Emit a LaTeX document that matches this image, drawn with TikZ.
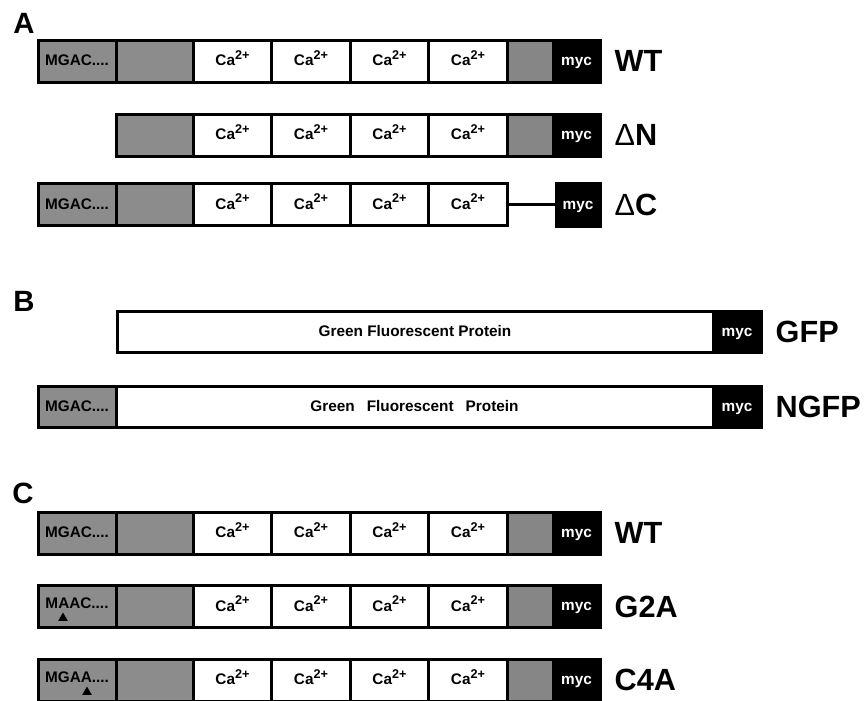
\documentclass[tikz,border=0pt]{standalone}
\usepackage{fontspec}
\setmainfont{Liberation Sans}
\usetikzlibrary{shapes.geometric}
\definecolor{domgray}{RGB}{140,140,140}
\definecolor{lnkgray}{RGB}{134,134,134}
\newcommand{\px}{0.75pt}
\newcommand{\boxfont}{\bfseries\fontsize{11.5}{13}\selectfont}
\newcommand{\calab}{Ca\raisebox{0.42em}{\fontsize{9.5}{10}\selectfont 2+}}
% the four Ca2+ binding boxes of one row
\newcommand{\cabank}[2]{%
  \foreach \k/\cx in {1/232.5,2/311,3/389.5,4/468}{%
    \node[cabox] (#1c\k) at (\cx,#2) {\calab};}}
\tikzset{
  seg/.style={draw=black, line width=3*\px, minimum height=42*\px,
              inner sep=0pt, minimum width=#1*\px, font=\boxfont,
              text height=0.72em, text depth=0pt},
  ntbox/.style={seg=78, fill=domgray},
  grbox/.style={seg=77, fill=domgray},
  cabox/.style={seg=78.5, fill=white},
  lkbox/.style={seg=46, fill=lnkgray},
  mycbox/.style={seg=47, fill=black, text=white, text height=0.62em},
  gfpbox/.style={seg=#1, fill=white, minimum height=41*\px},
  rowlab/.style={anchor=west, font=\bfseries\fontsize{23}{26}\selectfont},
  panlab/.style={font=\bfseries\fontsize{22}{24}\selectfont},
  snp/.style={regular polygon, regular polygon sides=3, fill=black,
              inner sep=0pt, minimum size=11*\px},
  link/.style={draw=black, line width=3*\px},
}
\begin{document}
\begin{tikzpicture}[x=\px, y=-\px]
  \useasboundingbox (0,0) rectangle (864,700);
  % panel A
  \node[panlab] (pA) at (24,23) {A};
  \node[ntbox] (wtn) at (77,61) {MGAC....};
  \node[grbox] (wtg) at (154.5,61) {};
  \cabank{wt}{61}
  \node[lkbox] (wtl) at (530,61) {};
  \node[mycbox] (wtm) at (576.5,61) {myc};
  \node[rowlab] (wtlab) at (610,61) {WT};

  \node[grbox] (dng) at (154.5,135) {};
  \cabank{dn}{135}
  \node[lkbox] (dnl) at (530,135) {};
  \node[mycbox] (dnm) at (576.5,135) {myc};
  \node[rowlab] (dnlab) at (610,135) {{\mdseries Δ}N};

  \node[ntbox] (dcn) at (77,204.5) {MGAC....};
  \node[grbox] (dcg) at (154.5,204.5) {};
  \cabank{dc}{204.5}
  \node[mycbox, seg=44, minimum height=43*\px] (dcm) at (578,204.5) {myc};
  \draw[link] (dcc4.east) -- (dcm.west);
  \node[rowlab] (dclab) at (610,204.5) {{\mdseries Δ}C};

  % panel B
  \node[panlab] (pB) at (24,301) {B};
  \node[gfpbox=596] (gfpw) at (415,332) {Green Fluorescent Protein};
  \node[mycbox, seg=48, minimum height=41*\px] (gfpm) at (737,332) {myc};
  \node[rowlab] (gfplab) at (771,332) {GFP};

  \node[ntbox, minimum height=41*\px] (ngn) at (77,407) {MGAC....};
  \node[gfpbox=597] (ngw) at (414.5,407)
    {Green\hspace{9pt}Fluorescent\hspace{9pt}Protein};
  \node[mycbox, seg=48, minimum height=41*\px] (ngm) at (737,407) {myc};
  \node[rowlab] (nglab) at (771,407) {NGFP};

  % panel C
  \node[panlab] (pC) at (23,493) {C};
  \node[ntbox] (cwn) at (77,533) {MGAC....};
  \node[grbox] (cwg) at (154.5,533) {};
  \cabank{cw}{533}
  \node[lkbox] (cwl) at (530,533) {};
  \node[mycbox] (cwm) at (576.5,533) {myc};
  \node[rowlab] (cwlab) at (610,533) {WT};

  \node[ntbox] (g2n) at (77,606.5) {\raisebox{2pt}{MAAC....}};
  \node[snp] (g2t) at (63,618) {};
  \node[grbox] (g2g) at (154.5,606.5) {};
  \cabank{g2}{606.5}
  \node[lkbox] (g2l) at (530,606.5) {};
  \node[mycbox] (g2m) at (576.5,606.5) {myc};
  \node[rowlab] (g2lab) at (610,606.5) {G2A};

  \node[ntbox] (c4n) at (77,680) {\raisebox{2pt}{MGAA....}};
  \node[snp] (c4t) at (87,692) {};
  \node[grbox] (c4g) at (154.5,680) {};
  \cabank{c4}{680}
  \node[lkbox] (c4l) at (530,680) {};
  \node[mycbox] (c4m) at (576.5,680) {myc};
  \node[rowlab] (c4lab) at (610,680) {C4A};
\end{tikzpicture}
\end{document}
